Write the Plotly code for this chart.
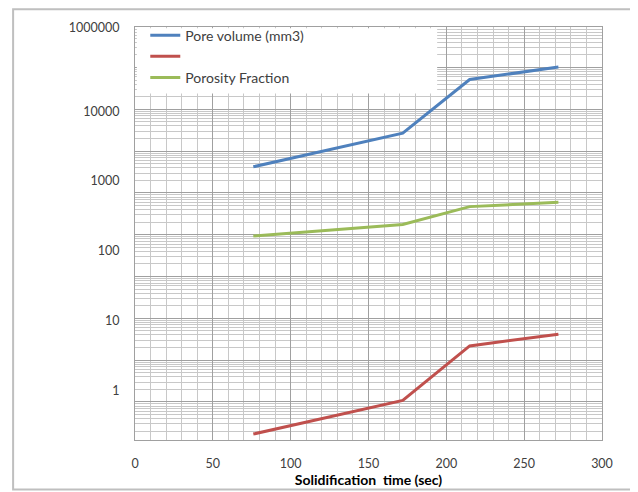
import plotly.graph_objects as go

# Data
time_sec = [76, 172, 215, 272]
pore_volume = [1600, 4850, 28400, 43000]
porosity_fraction = [0.238, 0.72, 4.35, 6.4]
third_series = [163, 239, 430, 495]

y_tickvals = [1, 10, 100, 1000, 10000, 10 ** 5.2]
y_ticktext = ["1", "10", "100", "1000", "10000", "1000000"]
x_tickvals = [0, 50, 100, 150, 200, 250, 300]

BLUE = "#4F81BD"
RED = "#C0504D"
GREEN = "#9BBB59"
MAJ = "#a0a0a0"
MIN = "#c8c8c8"
FONT = "Lato"

fig = go.Figure()
fig.add_trace(go.Scatter(x=time_sec, y=pore_volume, mode="lines",
                         name="Pore volume (mm3)", line=dict(color=BLUE, width=3)))
fig.add_trace(go.Scatter(x=time_sec, y=porosity_fraction, mode="lines",
                         name=" ", line=dict(color=RED, width=3)))
fig.add_trace(go.Scatter(x=time_sec, y=third_series, mode="lines",
                         name="Porosity Fraction", line=dict(color=GREEN, width=3)))
# grid-only helper axis
fig.add_trace(go.Scatter(x=[None], y=[None], yaxis="y2", showlegend=False,
                         hoverinfo="skip"))

fig.update_layout(
    width=630, height=484,
    margin=dict(l=127, r=36, t=15, b=52),
    paper_bgcolor="white", plot_bgcolor="white",
    font=dict(family=FONT, size=12.5, color="#404040"),
    xaxis=dict(range=[0, 300], tickvals=x_tickvals, showgrid=True, gridcolor=MAJ,
               gridwidth=1, zeroline=False, showline=True, linecolor=MAJ,
               mirror=True, ticks="", ticklabelstandoff=12,
               minor=dict(dtick=10, showgrid=True, gridcolor=MIN),
               title=dict(text="<b>Solidification\u00a0 time (sec)</b>",
                          font=dict(size=14, color="#000000"), standoff=0)),
    yaxis=dict(type="log", range=[-0.709, 5.206], tickvals=y_tickvals,
               ticktext=y_ticktext, showgrid=False, zeroline=False,
               showline=True, linecolor=MAJ, mirror=True, ticks="",
               ticklabelstandoff=12),
    yaxis2=dict(type="log", range=[0.09, 9.97], overlaying="y", side="right",
                showticklabels=False, showgrid=True, gridcolor=MAJ, zeroline=False,
                ticks="", showline=False,
                minor=dict(dtick="D1", showgrid=True, gridcolor=MIN)),
    legend=dict(x=0.022, y=1.018, xanchor="left", yanchor="top",
                bgcolor="rgba(0,0,0,0)", font=dict(size=14, color="#404040"),
                tracegroupgap=0),
    shapes=[
        dict(type="rect", xref="paper", yref="paper", x0=0.004, x1=0.647,
             y0=0.839, y1=0.997, fillcolor="white", line=dict(width=0),
             layer="above"),
        dict(type="rect", xref="paper", yref="paper", x0=-0.261, x1=1.071,
             y0=-0.12, y1=1.043, line=dict(color="#bfbfbf", width=2),
             layer="below"),
    ],
    showlegend=True,
)

fig.write_html("out.html")
